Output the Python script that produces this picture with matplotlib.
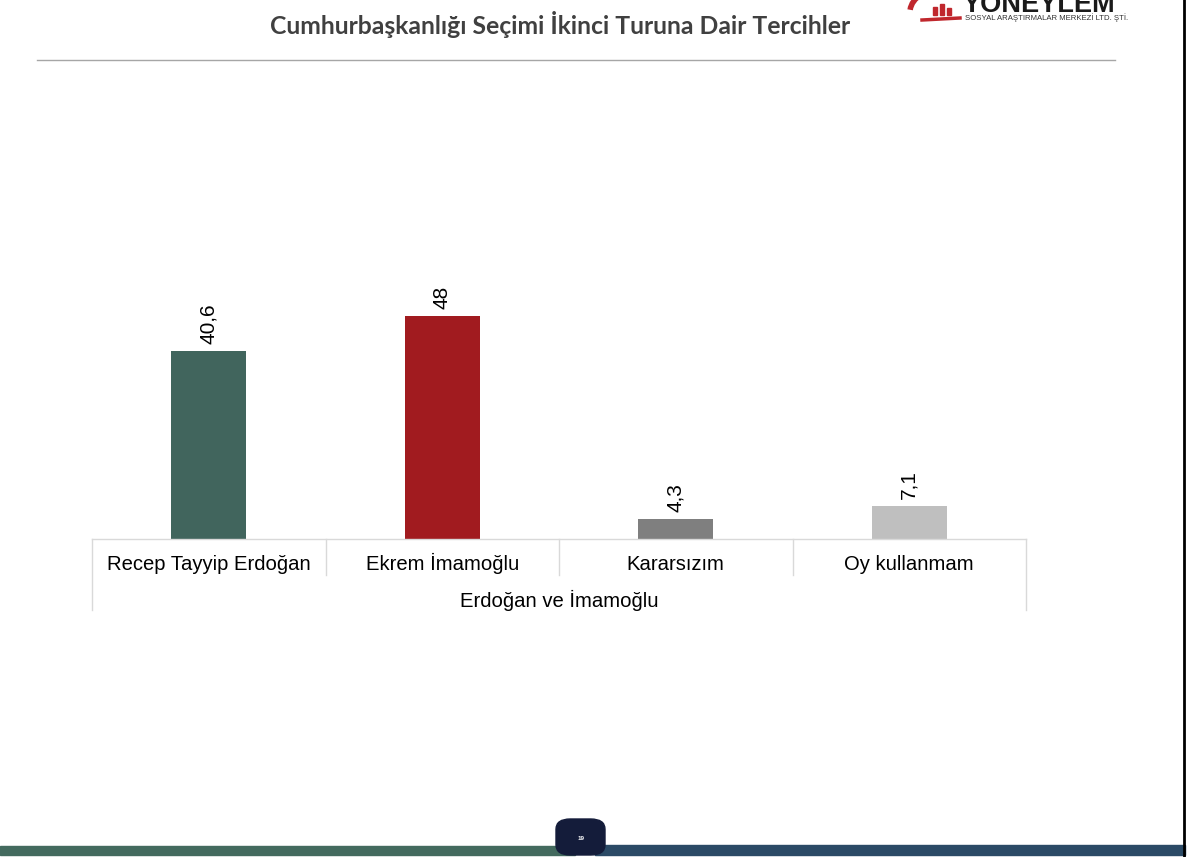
import matplotlib
matplotlib.use("Agg")
import matplotlib.pyplot as plt
from matplotlib.lines import Line2D
from matplotlib.patches import Rectangle, FancyBboxPatch, Arc

# Chart data
categories = ["Recep Tayyip Erdoğan", "Ekrem İmamoğlu", "Kararsızım", "Oy kullanmam"]
values = [40.6, 48, 4.3, 7.1]
group_label = "Erdoğan ve İmamoğlu"
title = "Cumhurbaşkanlığı Seçimi İkinci Turuna Dair Tercihler"
bar_colors = ["#41655d", "#a11b1f", "#7f7f7f", "#bfbfbf"]

W, H = 1187, 857
plt.rcParams['font.family'] = ['Liberation Sans', 'DejaVu Sans']

fig = plt.figure(figsize=(W / 100, H / 100), dpi=100)

def fx(px):
    return px / W

def fy(py):
    return 1 - py / H

# plot area in pixels
left, right, top, base = 92, 1026, 130, 539
ax = fig.add_axes([fx(left), fy(base), fx(right - left), (base - top) / H])
ax_h = base - top

ax.bar(range(len(values)), values, width=0.32, color=bar_colors)
ax.set_xlim(-0.5, len(values) - 0.5)
ax.set_ylim(0, ax_h / 4.64)
ax.set_xticks([])
ax.set_yticks([])
for s in ax.spines.values():
    s.set_visible(False)

for i, v in enumerate(values):
    txt = f"{v:g}".replace(".", ",")
    ax.annotate(txt, (i, v), xytext=(0, 5), textcoords="offset points",
                ha="center", va="bottom", rotation=90, fontsize=15, color="black")

# category table under the axis
grid_col = "#d9d9d9"
tr = ax.get_xaxis_transform()
ax.add_line(Line2D([-0.5, len(values) - 0.5], [0, 0], transform=tr, color=grid_col, lw=1, clip_on=False))
for b in range(len(values) + 1):
    x = b - 0.5
    y_end = -71 / ax_h if b in (0, len(values)) else -36 / ax_h
    ax.add_line(Line2D([x, x], [0, y_end], transform=tr, color=grid_col, lw=1, clip_on=False))
for i, c in enumerate(categories):
    ax.text(i, -31 / ax_h, c, transform=tr, ha="center", va="baseline", fontsize=14.6)
ax.text((len(values) - 1) / 2, -68 / ax_h, group_label, transform=tr, ha="center", va="baseline", fontsize=14.6)

# title and rule
fig.text(fx(560), fy(25), title, ha="center", va="center", fontsize=17.8,
         fontweight="bold", color="#404040", family=["Lato", "DejaVu Sans"])
fig.add_artist(Line2D([fx(37), fx(1115)], [fy(60), fy(60)], color="#a6a6a6", lw=1))

# logo (top right)
fig.add_artist(Arc((fx(945), fy(12)), fx(70), 48 / H, theta1=90, theta2=175, color="#c0272d", lw=4))
fig.add_artist(Rectangle((fx(933), fy(15)), fx(4), 8 / H, color="#c0272d"))
fig.add_artist(Rectangle((fx(940), fy(15)), fx(4), 11 / H, color="#c0272d"))
fig.add_artist(Rectangle((fx(947), fy(15)), fx(4), 7 / H, color="#c0272d"))
fig.add_artist(Line2D([fx(922), fx(960)], [fy(20), fy(18)], color="#c0272d", lw=2.5))
fig.text(fx(963), fy(12), "YONEYLEM", ha="left", va="baseline", fontsize=19.5,
         fontweight="bold", color="#1a1a1a")
fig.text(fx(965), fy(18), "SOSYAL ARAŞTIRMALAR MERKEZİ LTD. ŞTİ.", ha="left", va="center",
         fontsize=5.6, color="#333333")

# footer band
fig.add_artist(Rectangle((0, fy(855)), fx(575), 9 / H, color="#436a5e"))
fig.add_artist(Rectangle((fx(595), fy(855)), fx(590), 10 / H, color="#2b4a66"))
fig.add_artist(FancyBboxPatch((fx(556), fy(855)), fx(49), 36 / H,
                              boxstyle="round,pad=0,rounding_size=0.012", color="#141c3a"))
fig.text(fx(581), fy(839), "19", ha="center", va="center", fontsize=4.5, color="white", fontweight="bold")
fig.add_artist(Line2D([fx(1184), fx(1184)], [0, 1], color="black", lw=2))

fig.savefig("out.png", dpi=100)
